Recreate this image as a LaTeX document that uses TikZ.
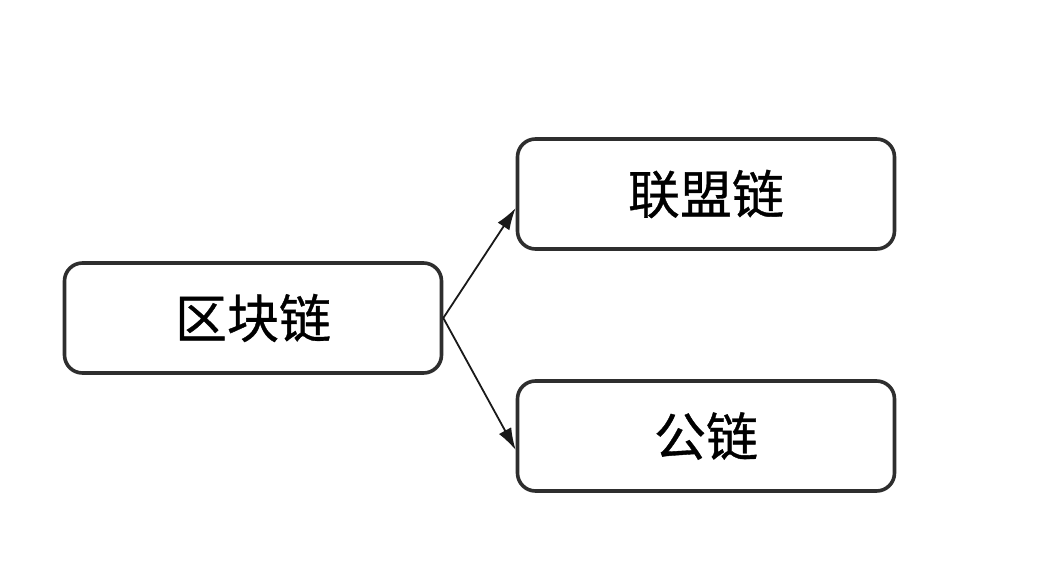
\documentclass[tikz,border=0pt]{standalone}
\usepackage{fontspec}
\newfontfamily\cjk[FakeBold=0.7]{Noto Sans CJK SC}
\usetikzlibrary{arrows.meta}
\begin{document}
\begin{tikzpicture}[x=1pt,y=-1pt,
  box/.style={draw=black!82, line width=3.6pt, rounded corners=18pt, minimum width=377pt, minimum height=110pt, inner sep=0pt, font=\cjk\fontsize{52}{60}\selectfont},
  conn/.style={draw=black!90, line width=1.8pt, -{Latex[length=22pt,width=14pt]}}]
\useasboundingbox[fill=white] (0,0) rectangle (1061,570);
\node[box] (chain) at (253,318) {区块链};
\node[box] (alliance) at (706,194) {联盟链};
\node[box] (public) at (706,436) {公链};
\draw[conn] (chain.east) -- ([yshift=-14pt]alliance.west);
\draw[conn] (chain.east) -- ([yshift=-14pt]public.west);
\end{tikzpicture}
\end{document}
